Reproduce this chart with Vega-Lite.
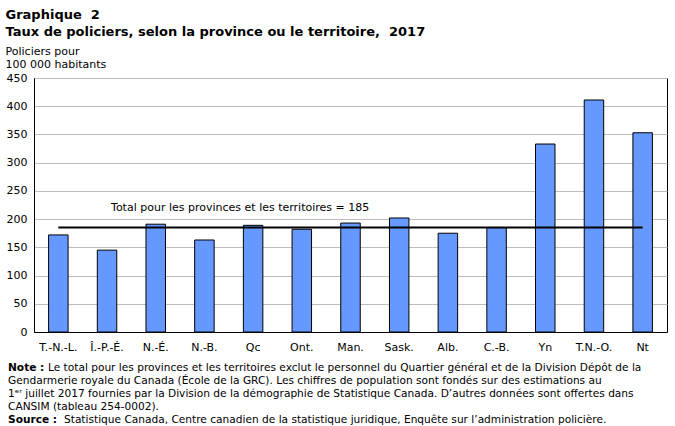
{
  "$schema": "https://vega.github.io/schema/vega-lite/v6.json",
  "background": "white",
  "padding": {"left": 5, "top": 8, "right": 5, "bottom": 0},
  "title": {
    "text": ["Graphique\u00a0\u00a02", "Taux de policiers, selon la province ou le territoire,\u00a0\u00a02017"],
    "subtitle": ["Policiers pour", "100 000 habitants"],
    "anchor": "start",
    "frame": "bounds",
    "font": "DejaVu Sans",
    "fontSize": 13,
    "fontWeight": "bold",
    "lineHeight": 17,
    "color": "black",
    "subtitleFont": "DejaVu Sans",
    "subtitleFontSize": 11,
    "subtitleLineHeight": 13,
    "subtitleColor": "black",
    "subtitlePadding": 7,
    "offset": 2
  },
  "config": {
    "font": "DejaVu Sans",
    "view": {"stroke": "black", "strokeWidth": 1}
  },
  "spacing": 9,
  "vconcat": [
    {
      "width": 633,
      "height": 254,
      "resolve": {"axis": {"y": "independent"}},
      "data": {
        "values": [
          {"region": "T.-N.-L.", "rate": 172},
          {"region": "Î.-P.-É.", "rate": 145},
          {"region": "N.-É.", "rate": 191},
          {"region": "N.-B.", "rate": 163},
          {"region": "Qc", "rate": 189},
          {"region": "Ont.", "rate": 182},
          {"region": "Man.", "rate": 193},
          {"region": "Sask.", "rate": 202},
          {"region": "Alb.", "rate": 175},
          {"region": "C.-B.", "rate": 185},
          {"region": "Yn", "rate": 333},
          {"region": "T.N.-O.", "rate": 411},
          {"region": "Nt", "rate": 353}
        ]
      },
      "encoding": {
        "x": {
          "field": "region",
          "type": "nominal",
          "sort": null,
          "scale": {"paddingInner": 0.6, "paddingOuter": 0.3},
          "axis": {
            "title": null,
            "labelAngle": 0,
            "ticks": false,
            "domainColor": "black",
            "labelColor": "black",
            "labelFontSize": 11,
            "labelPadding": 9
          }
        }
      },
      "layer": [
        {
          "mark": {"type": "bar", "fill": "#6699FF", "stroke": "black", "strokeWidth": 1},
          "encoding": {
            "y": {
              "field": "rate",
              "type": "quantitative",
              "scale": {"domain": [0, 450], "nice": false},
              "axis": {
                "title": null,
                "values": [0, 50, 100, 150, 200, 250, 300, 350, 400, 450],
                "labelOverlap": false,
                "labelFlush": false,
                "ticks": false,
                "grid": true,
                "gridColor": "#BDBDBD",
                "gridWidth": 1,
                "domainColor": "black",
                "labelColor": "black",
                "labelFontSize": 11,
                "labelPadding": 7
              }
            }
          }
        },
        {
          "mark": {"type": "line", "color": "black", "strokeWidth": 2},
          "encoding": {
            "y": {"datum": 185, "type": "quantitative", "axis": null}
          }
        },
        {
          "data": {"values": [{"anchor": "Î.-P.-É.", "total": 185, "label": "Total pour les provinces et les territoires = 185"}]},
          "mark": {"type": "text", "align": "left", "baseline": "middle", "dx": 4, "dy": -20, "fontSize": 11, "color": "black"},
          "encoding": {
            "x": {"field": "anchor", "type": "nominal", "sort": null},
            "y": {"field": "total", "type": "quantitative", "axis": null},
            "text": {"field": "label"}
          }
        }
      ]
    },
    {
      "width": 633,
      "height": 64,
      "view": {"stroke": null},
      "data": {
        "values": [
          {"line": 1, "head": "Note :", "body": "Le total pour les provinces et les territoires exclut le personnel du Quartier général et de la Division Dépôt de la", "indent": 1},
          {"line": 2, "head": "", "body": "Gendarmerie royale du Canada (École de la GRC). Les chiffres de population sont fondés sur des estimations au", "indent": 0},
          {"line": 3, "head": "", "body": "1ᵉʳ juillet 2017 fournies par la Division de la démographie de Statistique Canada. D’autres données sont offertes dans", "indent": 0},
          {"line": 4, "head": "", "body": "CANSIM (tableau 254-0002).", "indent": 0},
          {"line": 5, "head": "Source :", "body": "Statistique Canada, Centre canadien de la statistique juridique, Enquête sur l’administration policière.", "indent": 2}
        ]
      },
      "encoding": {
        "y": {"field": "line", "type": "ordinal", "axis": null, "scale": {"paddingInner": 0, "paddingOuter": 0}}
      },
      "layer": [
        {
          "mark": {"type": "text", "align": "left", "baseline": "middle", "fontSize": 10.6, "fontWeight": "bold", "color": "black"},
          "encoding": {
            "x": {"value": -26},
            "text": {"field": "head"}
          }
        },
        {
          "mark": {"type": "text", "align": "left", "baseline": "middle", "fontSize": 10.6, "color": "black"},
          "encoding": {
            "x": {"field": "indent", "type": "quantitative", "axis": null, "scale": {"domain": [0, 1, 2], "range": [-26, 14, 30]}},
            "text": {"field": "body"}
          }
        }
      ]
    }
  ]
}
